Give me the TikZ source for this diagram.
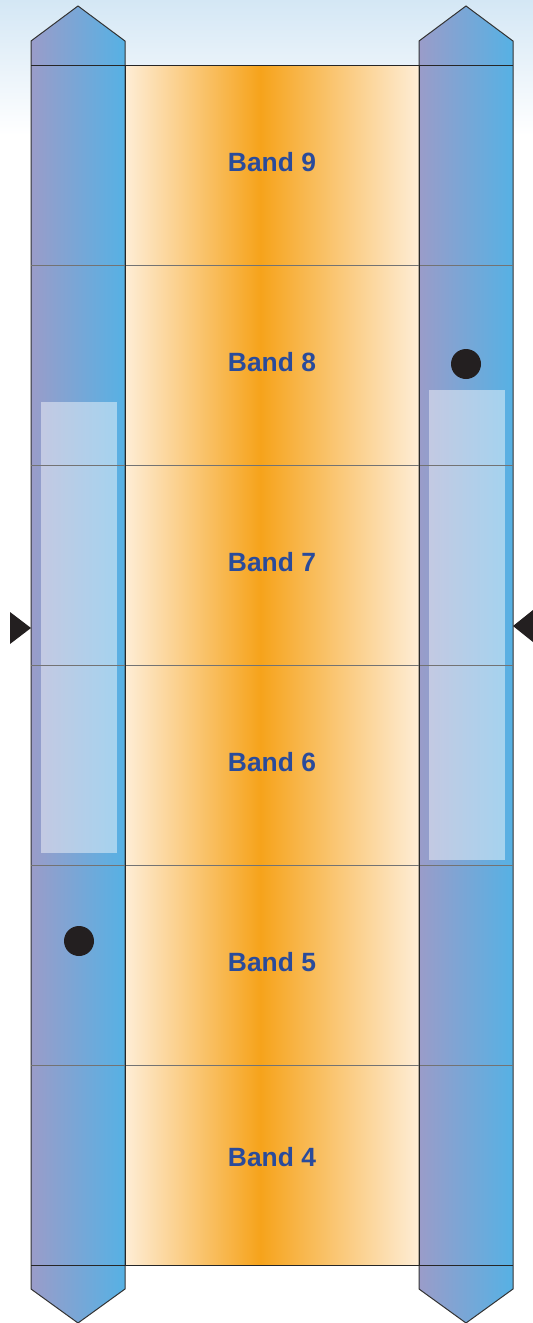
\documentclass[tikz,border=0pt]{standalone}
\usepackage{fontspec}
\setmainfont{Liberation Sans}
\usetikzlibrary{calc}
\definecolor{bandblue}{HTML}{2A4B9B}
\definecolor{colleft}{HTML}{9A9CC9}
\definecolor{colright}{HTML}{56B1E4}
\definecolor{bandcream}{HTML}{FEEDD6}
\definecolor{bandorange}{HTML}{F6A31B}
\definecolor{skyblue}{HTML}{D4E7F5}
\definecolor{dotblack}{HTML}{231F20}
\pgfdeclarehorizontalshading{bandshade}{100bp}{color(0bp)=(bandcream); color(25bp)=(bandcream); color(48bp)=(bandorange); color(75bp)=(bandcream); color(100bp)=(bandcream)}
\tikzset{
	bandlabel/.style={text=bandblue, font=\fontsize{13.2}{15}\selectfont\bfseries, inner sep=0pt},
	column/.style={draw=black!80, line width=0.5pt, left color=colleft, right color=colright},
	window/.style={fill=white, fill opacity=0.45},
}

\begin{document}
\begin{tikzpicture}[x=0.5pt, y=-0.5pt]
			%%%%% START %%%%%
			\useasboundingbox (0, 0) rectangle (533, 1323);
			\shade[top color=skyblue, bottom color=white] (0, 0) rectangle (533, 135);
			
			% the band strip
			\shade[shading=bandshade] (125, 65) rectangle (419, 1265);
			
			% the two columns
			\draw[column] (31, 41) -- (78, 6) -- (125, 41) -- (125, 1289) -- (78, 1323) -- (31, 1289) -- cycle;
			\draw[column] (419, 41) -- (466, 6) -- (513, 41) -- (513, 1289) -- (466, 1323) -- (419, 1289) -- cycle;
			
			\fill[window] (41, 402) rectangle (117, 853);
			\fill[window] (429, 390) rectangle (505, 860);
			
			% band borders
			\draw[black!55, line width=0.4pt] (31, 265) -- (513, 265);
			\draw[black!55, line width=0.4pt] (31, 465) -- (513, 465);
			\draw[black!55, line width=0.4pt] (31, 665) -- (513, 665);
			\draw[black!55, line width=0.4pt] (31, 865) -- (513, 865);
			\draw[black!55, line width=0.4pt] (31, 1065) -- (513, 1065);
			\draw[black!85, line width=0.5pt] (31, 65) -- (513, 65);
			\draw[black!85, line width=0.5pt] (31, 1265) -- (513, 1265);
			\draw[black!85, line width=0.5pt] (125, 65) -- (125, 1265);
			\draw[black!85, line width=0.5pt] (419, 65) -- (419, 1265);
			
			\fill[dotblack] (79, 941) circle (15);
			\fill[dotblack] (466, 364) circle (15);
			
			\fill[dotblack] (10, 612) -- (31, 628) -- (10, 644) -- cycle;
			\fill[dotblack] (533, 610) -- (513, 626) -- (533, 642) -- cycle;
			
			\node[bandlabel] (band9) at (272, 162) {Band 9};
			\node[bandlabel] (band8) at (272, 362) {Band 8};
			\node[bandlabel] (band7) at (272, 562) {Band 7};
			\node[bandlabel] (band6) at (272, 762) {Band 6};
			\node[bandlabel] (band5) at (272, 962) {Band 5};
			\node[bandlabel] (band4) at (272, 1157) {Band 4};
			%%%%% END %%%%%
\end{tikzpicture}
\end{document}
